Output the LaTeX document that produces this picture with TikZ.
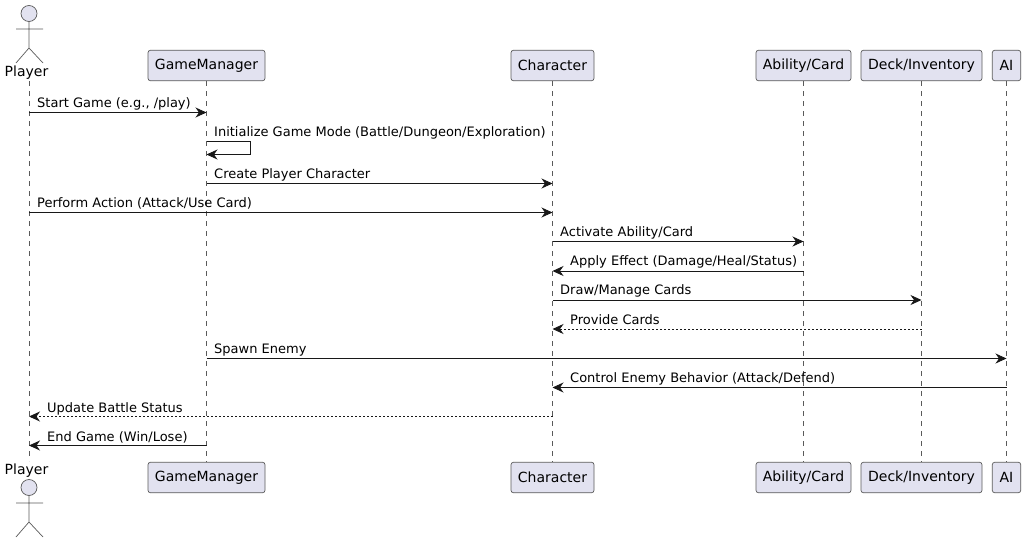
\documentclass[tikz,border=0pt]{standalone}
\usepackage{fontspec}
\setmainfont{DejaVu Sans}
\usetikzlibrary{arrows.meta}
\definecolor{partfill}{HTML}{E2E2F0}
\definecolor{partline}{HTML}{5A5A5A}
\definecolor{msgline}{HTML}{181818}
\tikzset{
	part/.style={draw=partline, fill=partfill, rounded corners=2.5pt, line width=0.7pt, minimum height=30.5pt, inner sep=0pt, font=\fontsize{14}{14}\selectfont},
	who/.style={font=\fontsize{14}{14}\selectfont, inner sep=0pt},
	limb/.style={draw=partline, line width=0.7pt},
	life/.style={draw=partline, line width=0.6pt, dash pattern=on 5pt off 5pt},
	msg/.style={draw=msgline, line width=0.9pt, -{Stealth[length=11pt, width=10pt, inset=3.5pt]}},
	reply/.style={msg, dash pattern=on 2pt off 2pt},
	note/.style={font=\fontsize{13}{13}\selectfont, inner sep=0pt, anchor=base west}
}
\begin{document}
\begin{tikzpicture}[x=1pt, y=-1pt]
	\useasboundingbox (0, 0) rectangle (1025, 543);

	% Lifeline ends
	\coordinate (playerT) at (29, 81);
	\coordinate (playerB) at (29, 461);

	% Nodes
	\node[who] (playerTop) at (26.5, 73) {Player};
	\node[part, minimum width=117pt] (mgrTop) at (206.5, 65.5) {GameManager};
	\node[part, minimum width=83pt] (charTop) at (552.5, 65.5) {Character};
	\node[part, minimum width=95pt] (abilTop) at (803.5, 65.5) {Ability/Card};
	\node[part, minimum width=121pt] (deckTop) at (921.5, 65.5) {Deck/Inventory};
	\node[part, minimum width=28.5pt] (aiTop) at (1006.5, 65.5) {AI};

	\node[who] (playerBot) at (26.5, 471) {Player};
	\node[part, minimum width=117pt] (mgrBot) at (206.5, 477.5) {GameManager};
	\node[part, minimum width=83pt] (charBot) at (552.5, 477.5) {Character};
	\node[part, minimum width=95pt] (abilBot) at (803.5, 477.5) {Ability/Card};
	\node[part, minimum width=121pt] (deckBot) at (921.5, 477.5) {Deck/Inventory};
	\node[part, minimum width=28.5pt] (aiBot) at (1006.5, 477.5) {AI};

	% Actors
	\draw[limb, fill=partfill] (29, 13.5) circle (8);
	\draw[limb] (29, 21.5) -- (29, 48) (16, 29) -- (43, 29) (16, 63) -- (29, 48) -- (43, 63);
	\draw[limb, fill=partfill] (29, 487.5) circle (8);
	\draw[limb] (29, 495.5) -- (29, 522) (16, 503) -- (43, 503) (16, 537) -- (29, 522) -- (43, 537);

	% Lifelines
	\draw[life] (playerT) -- (playerB);
	\draw[life] (mgrTop) -- (mgrBot);
	\draw[life] (charTop) -- (charBot);
	\draw[life] (abilTop) -- (abilBot);
	\draw[life] (deckTop) -- (deckBot);
	\draw[life] (aiTop) -- (aiBot);

	% Arrows
	\draw[msg] (playerT |- 0, 112.5) -- (mgrTop |- 0, 112.5);
	\draw[msg] (mgrTop |- 0, 141.5) -- (250, 141.5) -- (250, 154.5) -- (mgrTop |- 0, 154.5);
	\draw[msg] (mgrTop |- 0, 183.5) -- (charTop |- 0, 183.5);
	\draw[msg] (playerT |- 0, 212.5) -- (charTop |- 0, 212.5);
	\draw[msg] (charTop |- 0, 241.5) -- (abilTop |- 0, 241.5);
	\draw[msg] (abilTop |- 0, 271) -- (charTop |- 0, 271);
	\draw[msg] (charTop |- 0, 300) -- (deckTop |- 0, 300);
	\draw[reply] (deckTop |- 0, 329) -- (charTop |- 0, 329);
	\draw[msg] (mgrTop |- 0, 358.5) -- (aiTop |- 0, 358.5);
	\draw[msg] (aiTop |- 0, 387.5) -- (charTop |- 0, 387.5);
	\draw[reply] (charTop |- 0, 416.5) -- (playerT |- 0, 416.5);
	\draw[msg] (mgrTop |- 0, 445.5) -- (playerT |- 0, 445.5);

	% Labels
	\node[note] (startMsg) at (37, 107) {Start Game (e.g., /play)};
	\node[note] (initMsg) at (214, 136) {Initialize Game Mode (Battle/Dungeon/Exploration)};
	\node[note] (createMsg) at (214, 178) {Create Player Character};
	\node[note] (actionMsg) at (37, 207) {Perform Action (Attack/Use Card)};
	\node[note] (activateMsg) at (560, 236) {Activate Ability/Card};
	\node[note] (effectMsg) at (570, 265) {Apply Effect (Damage/Heal/Status)};
	\node[note] (drawMsg) at (560, 294) {Draw/Manage Cards};
	\node[note] (provideMsg) at (570, 324) {Provide Cards};
	\node[note] (spawnMsg) at (214, 353) {Spawn Enemy};
	\node[note] (controlMsg) at (570, 382) {Control Enemy Behavior (Attack/Defend)};
	\node[note] (updateMsg) at (47, 412) {Update Battle Status};
	\node[note] (endMsg) at (47, 441) {End Game (Win/Lose)};
\end{tikzpicture}
\end{document}
